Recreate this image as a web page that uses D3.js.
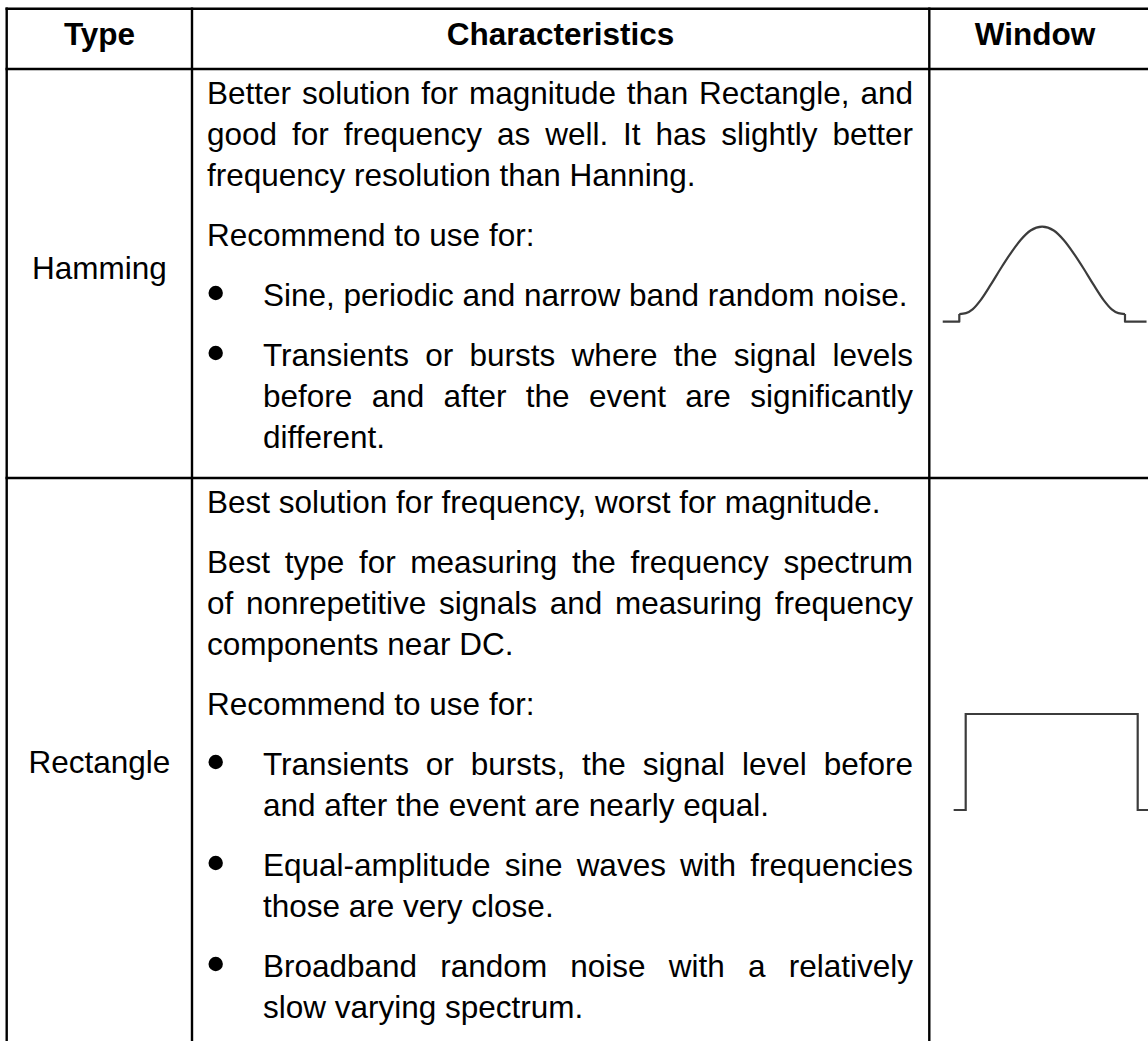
<!DOCTYPE html>
<html>
<head>
<meta charset="utf-8">
<script src="https://cdn.jsdelivr.net/npm/d3@7"></script>
<style>
  html, body { margin: 0; padding: 0; background: #fff; }
  svg { display: block; }
  text { font-family: "Liberation Sans", Arial, sans-serif; fill: #000; }
</style>
</head>
<body>
<svg id="chart" width="1148" height="1041"></svg>
<script>
// ---------- data ----------
const headers = ["Type", "Characteristics", "Window"];
const types = ["Hamming", "Rectangle"];

const hammingParas = [
  ["Better solution for magnitude than Rectangle, and",
   "good for frequency as well. It has slightly better",
   "frequency resolution than Hanning."],
  ["Recommend to use for:"],
  ["Sine, periodic and narrow band random noise."],
  ["Transients or bursts where the signal levels",
   "before and after the event are significantly",
   "different."]
];
const hammingBullets = [false, false, true, true];

const rectangleParas = [
  ["Best solution for frequency, worst for magnitude."],
  ["Best type for measuring the frequency spectrum",
   "of nonrepetitive signals and measuring frequency",
   "components near DC."],
  ["Recommend to use for:"],
  ["Transients or bursts, the signal level before",
   "and after the event are nearly equal."],
  ["Equal-amplitude sine waves with frequencies",
   "those are very close."],
  ["Broadband random noise with a relatively",
   "slow varying spectrum."]
];
const rectangleBullets = [false, false, false, true, true, true];

// window shapes (t: position in window, amp: amplitude)
const hammingT   = [-0.1, 0, 0, 0.04, 0.08, 0.13, 0.19, 0.25, 0.31, 0.37, 0.43, 0.5, 0.57, 0.63, 0.69, 0.75, 0.81, 0.87, 0.92, 0.96, 1, 1, 1.13];
const hammingAmp = [0, 0, 0.08, 0.09, 0.13, 0.23, 0.39, 0.56, 0.72, 0.86, 0.96, 1.0, 0.96, 0.86, 0.72, 0.56, 0.39, 0.23, 0.13, 0.09, 0.08, 0, 0];
const rectT   = [-0.07, 0, 0, 1, 1, 1.06];
const rectAmp = [0, 0, 1, 1, 0, 0];

// ---------- layout ----------
const svg = d3.select("#chart");
const FS = 31.5;
const colX = [6.7, 192, 929.3, 1152];
const rowY = [8.7, 69, 478, 1100];
const headerCenters = [99.5, 560.5, 1035];
const textLeft = 207, bulletTextLeft = 263, textRight = 913, bulletX = 215.7;
const LINE = 41, PARA = 60;

// ---------- table grid ----------
const grid = svg.append("g").attr("stroke", "#000").attr("stroke-width", 2.4);
[rowY[0], rowY[1], rowY[2]].forEach(y =>
  grid.append("line").attr("x1", colX[0] - 1.2).attr("x2", colX[3]).attr("y1", y).attr("y2", y));
colX.slice(0, 3).forEach(x =>
  grid.append("line").attr("x1", x).attr("x2", x).attr("y1", rowY[0] - 1.2).attr("y2", rowY[3]));

// ---------- header ----------
headers.forEach((h, i) => {
  svg.append("text")
    .attr("x", headerCenters[i])
    .attr("y", 45)
    .attr("text-anchor", "middle")
    .attr("font-weight", "bold")
    .attr("font-size", FS)
    .text(h);
});

// ---------- type labels ----------
const typeBaselines = [278.5, 773];
types.forEach((t, i) => {
  svg.append("text")
    .attr("x", (colX[0] + colX[1]) / 2)
    .attr("y", typeBaselines[i])
    .attr("text-anchor", "middle")
    .attr("font-size", FS)
    .text(t);
});

// ---------- paragraphs with justification ----------
const measurer = svg.append("text").attr("font-size", FS).attr("x", -1000).attr("y", -1000);
function wordWidth(w) { measurer.text(w); return measurer.node().getComputedTextLength(); }

function drawParas(paras, bullets, firstBaseline) {
  let y = firstBaseline;
  paras.forEach((lines, pi) => {
    if (pi > 0) y += PARA - LINE;
    const left = bullets[pi] ? bulletTextLeft : textLeft;
    if (bullets[pi]) {
      svg.append("circle").attr("cx", bulletX).attr("cy", y - 13).attr("r", 7.2).attr("fill", "#000");
    }
    lines.forEach((line, li) => {
      const justify = li < lines.length - 1;
      if (!justify) {
        svg.append("text").attr("x", left).attr("y", y).attr("font-size", FS)
          .attr("xml:space", "preserve").text(line);
      } else {
        const words = line.split(" ");
        const widths = words.map(wordWidth);
        const total = d3.sum(widths);
        const gap = (textRight - left - total) / (words.length - 1);
        let x = left;
        words.forEach((w, wi) => {
          svg.append("text").attr("x", x).attr("y", y).attr("font-size", FS).text(w);
          x += widths[wi] + gap;
        });
      }
      y += LINE;
    });
  });
}
drawParas(hammingParas, hammingBullets, 104);
drawParas(rectangleParas, rectangleBullets, 513);
measurer.remove();

// ---------- window shapes ----------
const hx = d3.scaleLinear().domain([0, 1]).range([959.3, 1125]);
const hy = d3.scaleLinear().domain([0, 1]).range([321.7, 226.7]);
const rx = d3.scaleLinear().domain([0, 1]).range([965.7, 1137.7]);
const ry = d3.scaleLinear().domain([0, 1]).range([810, 714]);

const hPts = hammingT.map((t, i) => [t, hammingAmp[i]]);
const rPts = rectT.map((t, i) => [t, rectAmp[i]]);
const nH = hPts.length;

const lin = (xs, ys) => d3.line().x(d => xs(d[0])).y(d => ys(d[1])).curve(d3.curveLinear);
const smooth = (xs, ys) => d3.line().x(d => xs(d[0])).y(d => ys(d[1])).curve(d3.curveMonotoneX);

const winG = svg.append("g").attr("fill", "none").attr("stroke", "#3c3c3c")
  .attr("stroke-width", 2.2).attr("stroke-linejoin", "round");
winG.append("path").attr("d", lin(hx, hy)(hPts.slice(0, 3)));
winG.append("path").attr("d", smooth(hx, hy)(hPts.slice(2, nH - 2)));
winG.append("path").attr("d", lin(hx, hy)(hPts.slice(nH - 3)));
winG.append("path").attr("d", lin(rx, ry)(rPts)).attr("stroke-linejoin", "miter");
</script>
</body>
</html>
